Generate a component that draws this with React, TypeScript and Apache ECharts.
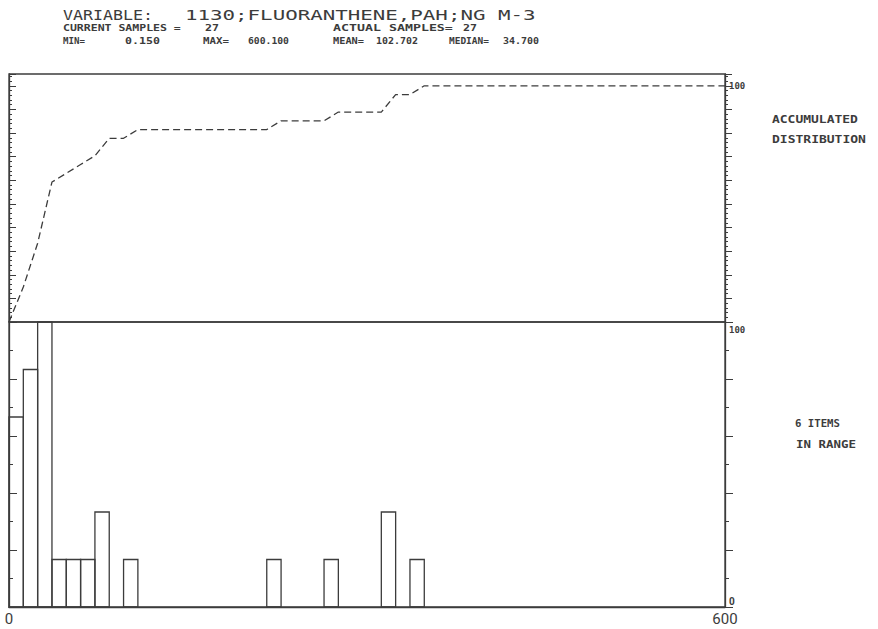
import React, { useEffect, useRef } from "react";
import * as echarts from "echarts";

// ---- data ----
const xMin = 0;
const xMax = 600;
const binWidth = 12;
// item counts per 12-unit bin (50 bins over 0..600)
const binCounts = [
  4, 5, 7, 1, 1, 1, 2, 0, 1, 0,
  0, 0, 0, 0, 0, 0, 0, 0, 1, 0,
  0, 0, 1, 0, 0, 0, 2, 0, 1, 0,
  0, 0, 0, 0, 0, 0, 0, 0, 0, 0,
  0, 0, 0, 0, 0, 0, 0, 0, 0, 0,
];
const itemsInRange = 6; // full height of histogram = 6 items
const totalSamples = 27;
const xTickLabels = ["0", "600"];

const titleLabel = "VARIABLE:";
const titleText = "1130;FLUORANTHENE,PAH;NG M-3";
const statLabels = ["CURRENT SAMPLES =", "ACTUAL SAMPLES=", "MIN=", "MAX=", "MEAN=", "MEDIAN="];
const statValues = ["27", "27", "0.150", "600.100", "102.702", "34.700"];
const sideLabels = ["ACCUMULATED", "DISTRIBUTION", "6 ITEMS", "IN RANGE"];

const INK = "#3c3c3c";
const MONO = "'DejaVu Sans Mono', 'Liberation Mono', monospace";

function monoText(text: string, x: number, y: number, size: number, width: number, bold = false) {
  const adv = 0.602 * size * text.length;
  return {
    type: "text",
    x,
    y,
    scaleX: width / adv,
    silent: true,
    style: {
      text,
      fill: INK,
      font: `${bold ? "bold " : ""}${size}px ${MONO}`,
      textAlign: "left",
      textVerticalAlign: "middle",
      verticalAlign: "middle",
    },
  };
}

export default function App() {
  const ref = useRef<HTMLDivElement>(null);

  useEffect(() => {
    if (!ref.current) return;
    const chart = echarts.init(ref.current, undefined, { renderer: "svg" });

    // histogram rects data: [start, end, percent-of-range]
    const histData: number[][] = [];
    binCounts.forEach((c, i) => {
      if (c > 0) histData.push([i * binWidth, (i + 1) * binWidth, (c * 100) / itemsInRange]);
    });
    // accumulated distribution at bin edges
    const cumData: number[][] = [[0, 0]];
    let cum = 0;
    binCounts.forEach((c, i) => {
      cum += c;
      cumData.push([(i + 1) * binWidth, (cum * 100) / totalSamples]);
    });

    const tickStyle = { lineStyle: { color: INK, width: 1 } };

    const option: any = {
      animation: false,
      backgroundColor: "#ffffff",
      grid: [
        { left: 9, width: 716, top: 74, height: 248, show: true, borderColor: INK, borderWidth: 1.3 },
        { left: 9, width: 716, top: 322, height: 285, show: true, borderColor: INK, borderWidth: 1.3 },
      ],
      xAxis: [
        {
          gridIndex: 0, type: "value", min: xMin, max: xMax,
          axisLine: { show: false }, axisTick: { show: false }, axisLabel: { show: false }, splitLine: { show: false },
        },
        {
          gridIndex: 1, type: "value", min: xMin, max: xMax, interval: xMax - xMin,
          axisLine: { show: true, lineStyle: { color: INK, width: 1.3 } },
          axisTick: { show: false },
          splitLine: { show: false },
          axisLabel: {
            show: true, color: INK, fontSize: 15, fontFamily: "Roboto", margin: 4,
            formatter: (v: number) => (v === xMin ? xTickLabels[0] : v === xMax ? xTickLabels[1] : ""),
          },
        },
      ],
      yAxis: [
        {
          gridIndex: 0, type: "value", position: "left", min: 0, max: 105, interval: 10,
          axisLine: { show: true, lineStyle: { color: INK, width: 1.3 } },
          axisTick: { show: true, inside: true, length: 7, ...tickStyle },
          minorTick: { show: true, splitNumber: 5, length: 3, lineStyle: { color: INK } },
          axisLabel: { show: false }, splitLine: { show: false },
        },
        {
          gridIndex: 0, type: "value", position: "right", min: 0, max: 105, interval: 10,
          axisLine: { show: true, lineStyle: { color: INK, width: 1.3 } },
          axisTick: { show: true, inside: false, length: 7, ...tickStyle },
          minorTick: { show: true, splitNumber: 5, length: 3, lineStyle: { color: INK } },
          axisLabel: {
            show: true, color: INK, fontSize: 9, fontWeight: "bold", fontFamily: MONO, margin: 4,
            formatter: (v: number) => (v === 100 ? "100" : ""),
          },
          splitLine: { show: false },
        },
        {
          gridIndex: 1, type: "value", position: "left", min: 0, max: 100, interval: 20,
          axisLine: { show: true, lineStyle: { color: INK, width: 1.3 } },
          axisTick: { show: true, inside: true, length: 8, ...tickStyle },
          minorTick: { show: true, splitNumber: 2, length: 4, lineStyle: { color: INK } },
          axisLabel: { show: false }, splitLine: { show: false },
        },
        {
          gridIndex: 1, type: "value", position: "right", min: 0, max: 100, interval: 20,
          axisLine: { show: true, lineStyle: { color: INK, width: 1.3 } },
          axisTick: { show: true, inside: false, length: 8, ...tickStyle },
          minorTick: { show: true, splitNumber: 2, length: 4, lineStyle: { color: INK } },
          axisLabel: {
            show: true, color: INK, fontSize: 9, fontWeight: "bold", fontFamily: MONO, margin: 4,
            formatter: (v: number) => (v === 100 ? "{top|100}" : v === 0 ? "{bot|0}" : ""),
            rich: {
              top: { padding: [16, 0, 0, 0], fontSize: 9, fontWeight: "bold", fontFamily: MONO, color: INK },
              bot: { padding: [0, 0, 12, 0], fontSize: 10, fontFamily: "Roboto", color: INK },
            },
          },
          splitLine: { show: false },
        },
      ],
      series: [
        {
          type: "line",
          xAxisIndex: 0,
          yAxisIndex: 0,
          data: cumData,
          showSymbol: false,
          symbol: "none",
          lineStyle: { color: INK, width: 1.3, type: [7, 4] },
        },
        {
          type: "custom",
          xAxisIndex: 1,
          yAxisIndex: 2,
          data: histData,
          renderItem: (params: any, api: any) => {
            const s = api.value(0);
            const e = api.value(1);
            const h = Math.min(api.value(2), 100);
            const p0 = api.coord([s, h]);
            const p1 = api.coord([e, 0]);
            return {
              type: "rect",
              shape: { x: p0[0], y: p0[1], width: p1[0] - p0[0], height: p1[1] - p0[1] },
              style: { fill: "none", stroke: INK, lineWidth: 1.3 },
            };
          },
        },
      ],
      graphic: [
        monoText(titleLabel, 63, 15, 14, 90),
        monoText(titleText, 185, 15, 14, 351),
        monoText(statLabels[0], 63, 28, 8, 118, true),
        monoText(statValues[0], 205, 28, 8, 14, true),
        monoText(statLabels[1], 333, 28, 8, 120, true),
        monoText(statValues[1], 463, 28, 8, 14, true),
        monoText(statLabels[2], 63, 41, 8, 22, true),
        monoText(statValues[2], 125, 41, 8, 35, true),
        monoText(statLabels[3], 203, 41, 8, 26, true),
        monoText(statValues[3], 248, 41, 8, 41, true),
        monoText(statLabels[4], 333, 41, 8, 31, true),
        monoText(statValues[4], 376, 41, 8, 42, true),
        monoText(statLabels[5], 449, 41, 8, 40, true),
        monoText(statValues[5], 503, 41, 8, 36, true),
        monoText(sideLabels[0], 772, 120, 10, 86, true),
        monoText(sideLabels[1], 772, 140, 10, 94, true),
        monoText(sideLabels[2], 795, 423, 10, 45, true),
        monoText(sideLabels[3], 796, 445, 10, 60, true),
      ],
    };

    chart.setOption(option);
    return () => chart.dispose();
  }, []);

  return (
    <div
      ref={ref}
      style={{ position: "fixed", left: 0, top: 0, width: 878, height: 629, background: "#fff" }}
    />
  );
}
